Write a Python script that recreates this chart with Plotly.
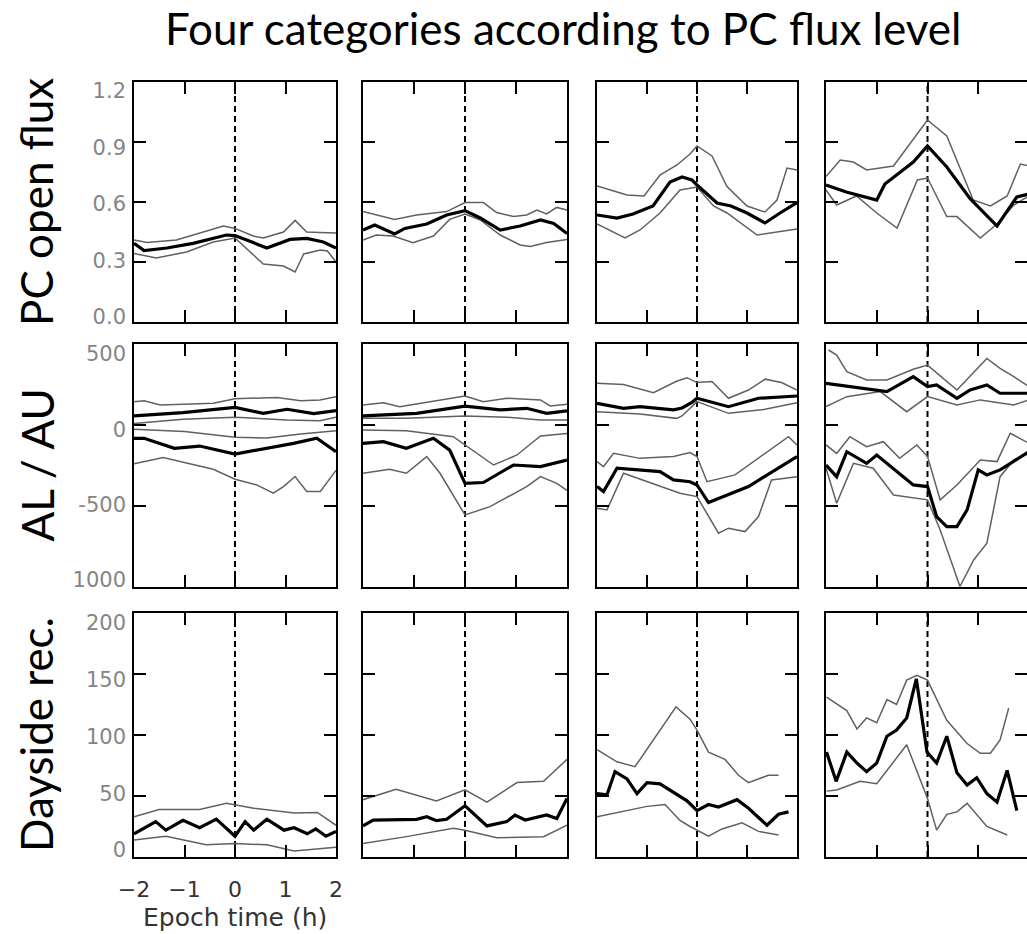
import plotly.graph_objects as go

# ---------------- DATA ----------------
# Epoch time tick labels
x_tickvals = [-2, -1, 0, 1, 2]
x_ticktext = ["\u22122", "\u22121", "0", "1", "2"]

row_titles = ["PC open flux", "AL / AU", "Dayside rec."]
flux_tickvals = [0.0, 0.3, 0.6, 0.9, 1.2]
flux_ticktext = ["0.0", "0.3", "0.6", "0.9", "1.2"]
alau_tickvals = [-1000, -500, 0, 500]
alau_ticktext = ["1000", "-500", "0", "500"]
rec_tickvals = [0, 50, 100, 150, 200]
rec_ticktext = ["0", "50", "100", "150", "200"]

# ---- Row 1: PC open flux ----
# category 1
flux1_mean_t = [-2, -1.8, -1.35, -0.83, -0.17, 0, 0.36, 0.63, 1.09, 1.42, 1.75, 2]
flux1_mean_v = [0.393, 0.357, 0.37, 0.393, 0.435, 0.432, 0.397, 0.37, 0.413, 0.418, 0.40, 0.37]
flux1_up_t = [-2, -1.74, -1.16, -0.43, -0.23, 0, 0.36, 0.56, 0.96, 1.19, 1.42, 1.69, 2]
flux1_up_v = [0.41, 0.397, 0.41, 0.468, 0.48, 0.468, 0.43, 0.42, 0.45, 0.508, 0.45, 0.447, 0.445]
flux1_lo_t = [-2, -1.56, -0.96, -0.43, 0, 0.43, 0.56, 0.96, 1.19, 1.36, 1.69, 1.83, 2]
flux1_lo_v = [0.343, 0.32, 0.35, 0.40, 0.42, 0.32, 0.29, 0.28, 0.25, 0.34, 0.36, 0.355, 0.30]
# category 2
flux2_mean_t = [-2, -1.77, -1.38, -1.18, -0.75, -0.36, 0, 0.3, 0.69, 1.08, 1.48, 1.74, 2]
flux2_mean_v = [0.46, 0.485, 0.44, 0.468, 0.49, 0.535, 0.557, 0.52, 0.46, 0.48, 0.51, 0.493, 0.443]
flux2_up_t = [-2, -1.38, -0.95, -0.36, 0, 0.36, 0.62, 0.95, 1.21, 1.41, 1.6, 1.8, 2]
flux2_up_v = [0.552, 0.513, 0.535, 0.552, 0.597, 0.597, 0.547, 0.527, 0.535, 0.56, 0.54, 0.573, 0.56]
flux2_lo_t = [-2, -1.74, -1.41, -1.02, -0.62, -0.3, 0, 0.3, 0.69, 1.08, 1.28, 1.6, 2]
flux2_lo_v = [0.41, 0.435, 0.43, 0.397, 0.43, 0.513, 0.54, 0.51, 0.435, 0.385, 0.377, 0.397, 0.413]
# category 3
flux3_mean_t = [-2, -1.6, -1.28, -0.88, -0.54, -0.3, -0.1, 0, 0.4, 0.68, 1.0, 1.36, 1.66, 2]
flux3_mean_v = [0.535, 0.52, 0.54, 0.58, 0.70, 0.725, 0.71, 0.685, 0.595, 0.58, 0.545, 0.495, 0.545, 0.597]
flux3_up_t = [-2, -1.4, -1.06, -0.74, -0.4, -0.14, 0, 0.3, 0.6, 1.0, 1.36, 1.6, 1.8, 2]
flux3_up_v = [0.68, 0.635, 0.63, 0.735, 0.785, 0.84, 0.88, 0.83, 0.677, 0.58, 0.55, 0.61, 0.77, 0.76]
flux3_lo_t = [-2, -1.44, -1.14, -0.74, -0.34, 0, 0.33, 0.6, 1.2, 1.6, 2]
flux3_lo_v = [0.49, 0.42, 0.46, 0.545, 0.66, 0.675, 0.58, 0.545, 0.435, 0.45, 0.465]
# category 4
flux4_mean_t = [-2, -1.6, -1.0, -0.84, -0.28, 0, 0.38, 0.84, 1.37, 1.76, 2]
flux4_mean_v = [0.685, 0.65, 0.61, 0.69, 0.80, 0.88, 0.775, 0.617, 0.48, 0.625, 0.64]
flux4_up_t = [-2, -1.72, -1.46, -1.2, -0.67, 0, 0.38, 0.9, 1.24, 1.57, 1.83, 2]
flux4_up_v = [0.727, 0.81, 0.80, 0.76, 0.78, 1.01, 0.93, 0.61, 0.58, 0.63, 0.79, 0.78]
flux4_lo_t = [-2, -1.79, -1.4, -1.0, -0.6, -0.2, 0, 0.38, 0.58, 1.04, 1.37, 1.7, 2]
flux4_lo_v = [0.66, 0.585, 0.63, 0.545, 0.47, 0.71, 0.72, 0.527, 0.527, 0.42, 0.49, 0.585, 0.63]

# ---- Row 2: AL / AU (nT) ----
# category 1
au1_mean_t = [-2, -1.03, 0, 0.56, 1.03, 1.56, 2]
au1_mean_v = [56, 76, 109, 72, 97, 70, 89]
au1_up_t = [-2, -1.8, -1.48, -1.03, -0.43, 0, 0.83, 1.3, 1.68, 2]
au1_up_v = [144, 150, 124, 129, 135, 162, 170, 150, 155, 175]
au1_lo_t = [-2, -1.03, 0, 1.03, 1.68, 2]
au1_lo_v = [10, 35, 48, 31, 27, 48]
al1_up_t = [-2, -1, 0, 0.63, 1.3, 2]
al1_up_v = [-27, -40, -76, -80, -55, -35]
al1_mean_t = [-2, -1.8, -1.2, -0.7, 0, 0.63, 1.16, 1.62, 2]
al1_mean_v = [-82, -82, -144, -130, -179, -144, -113, -82, -165]
al1_lo_t = [-2, -1.42, -0.96, -0.43, 0, 0.43, 0.76, 0.96, 1.19, 1.42, 1.69, 2]
al1_lo_v = [-240, -201, -234, -273, -335, -370, -421, -380, -318, -410, -410, -280]
# category 2
au2_mean_t = [-2, -0.95, 0, 0.69, 1.21, 1.6, 2]
au2_mean_v = [56, 72, 117, 93, 103, 72, 87]
au2_up_t = [-2, -1.6, -1.28, -0.69, 0, 0.36, 0.82, 1.48, 1.67, 2]
au2_up_v = [124, 137, 113, 144, 179, 144, 165, 155, 118, 128]
au2_lo_t = [-2, -1.15, 0, 0.82, 1.48, 2]
au2_lo_v = [41, 41, 56, 48, 31, 31]
al2_up_t = [-2, -1.15, -0.23, 0.56, 1.02, 1.48, 2]
al2_up_v = [-31, -35, -72, -247, -185, -68, -52]
al2_mean_t = [-2, -1.6, -1.15, -0.62, -0.3, 0, 0.36, 0.95, 1.48, 2]
al2_mean_v = [-113, -103, -144, -82, -155, -360, -355, -247, -257, -216]
al2_lo_t = [-2, -1.48, -1.15, -0.75, -0.49, 0, 0.49, 1.21, 1.48, 1.8, 2]
al2_lo_v = [-298, -273, -298, -195, -298, -555, -504, -380, -319, -360, -404]
# category 3
au3_mean_t = [-2, -1.47, -1.14, -0.47, -0.3, -0.1, 0, 0.63, 1.23, 2]
au3_mean_v = [134, 103, 113, 93, 105, 140, 165, 113, 165, 179]
au3_up_t = [-2, -1.47, -0.87, -0.41, -0.2, 0, 0.3, 0.63, 1.03, 1.36, 1.69, 2]
au3_up_v = [257, 250, 200, 270, 292, 262, 268, 165, 216, 283, 262, 216]
au3_lo_t = [-2, -1.14, -0.41, -0.3, 0, 0.63, 1.36, 2]
au3_lo_v = [82, 68, 41, 56, 144, 72, 97, 138]
al3_up_t = [-2, -1.87, -1.67, -1.14, -0.47, -0.14, 0, 0.2, 0.76, 1.36, 1.83, 2]
al3_up_v = [-226, -257, -175, -206, -195, -170, -195, -350, -308, -175, -72, -123]
al3_mean_t = [-2, -1.87, -1.6, -1.14, -0.74, -0.47, -0.14, 0, 0.23, 1.03, 2]
al3_mean_v = [-380, -411, -267, -278, -288, -339, -350, -370, -479, -380, -195]
al3_lo_t = [-2, -1.8, -1.47, -0.74, -0.34, 0, 0.43, 0.63, 0.96, 1.23, 1.49, 2]
al3_lo_v = [-514, -524, -298, -380, -421, -442, -668, -637, -658, -565, -339, -319]
# category 4
au4_mean_t = [-2, -1.2, -0.8, -0.28, 0, 0.18, 0.58, 0.84, 1.17, 1.43, 2]
au4_mean_v = [257, 226, 206, 298, 237, 247, 165, 216, 247, 196, 196]
au4_up_t = [-1.95, -1.79, -1.59, -1.2, -0.8, -0.28, 0, 0.58, 1.17, 1.43, 1.7, 2]
au4_up_v = [463, 432, 329, 278, 278, 344, 370, 216, 411, 349, 298, 237]
au4_lo_t = [-2, -1.59, -0.93, -0.41, 0, 0.58, 1.04, 1.7, 2]
au4_lo_v = [113, 175, 206, 82, 175, 124, 155, 124, 155]
al4_up_t = [-2, -1.79, -1.53, -1.2, -0.87, -0.55, -0.21, 0, 0.25, 0.58, 1.04, 1.37, 1.63, 2]
al4_up_v = [-123, -175, -72, -134, -103, -206, -123, -195, -462, -370, -216, -226, -51, -113]
al4_mean_t = [-2, -1.79, -1.59, -1.2, -1.0, -0.28, 0, 0.18, 0.38, 0.58, 0.78, 1.0, 1.17, 1.43, 2]
al4_mean_v = [-247, -319, -165, -237, -185, -370, -380, -565, -627, -627, -524, -277, -308, -277, -165]
al4_lo_t = [-2, -1.79, -1.46, -1.07, -0.67, -0.28, 0, 0.25, 0.64, 0.91, 1.17, 1.43, 1.7, 2]
al4_lo_v = [-267, -483, -237, -267, -432, -452, -462, -648, -997, -833, -730, -319, -216, -175]

# ---- Row 3: Dayside reconnection ----
rec1_mean_t = [-2, -1.77, -1.57, -1.37, -1.03, -0.7, -0.37, 0, 0.2, 0.37, 0.63, 0.97, 1.17, 1.43, 1.6, 1.8, 2]
rec1_mean_v = [19, 24, 29, 22, 30, 24, 31, 17, 29, 22, 31, 22, 24, 19, 23, 17, 21]
rec1_up_t = [-2, -1.5, -0.7, -0.17, 0.37, 1.17, 1.63, 2]
rec1_up_v = [33, 39, 39, 44, 40, 36, 36.5, 26]
rec1_lo_t = [-2, -1.37, -0.57, 0, 0.63, 1.17, 2]
rec1_lo_v = [14, 17, 10, 11, 10, 5, 8]

rec2_mean_t = [-2, -1.8, -0.95, -0.75, -0.56, -0.36, 0, 0.43, 0.82, 0.98, 1.18, 1.6, 1.8, 2]
rec2_mean_v = [25.5, 30.3, 30.9, 33, 29.8, 30.9, 42, 25.5, 29, 34.4, 30.3, 34.4, 31.6, 48]
rec2_up_t = [-2, -1.35, -0.56, 0, 0.43, 1.02, 1.54, 2]
rec2_up_v = [47, 55.5, 46, 55, 45, 61, 62, 80]
rec2_lo_t = [-2, -1.15, -0.23, 0, 0.62, 1.54, 2]
rec2_lo_v = [11, 16.7, 23.5, 22, 15.8, 16.7, 26]

rec3_mean_t = [-2, -1.8, -1.64, -1.4, -1.2, -1.0, -0.74, -0.41, -0.2, 0, 0.23, 0.43, 0.8, 1.03, 1.4, 1.63, 1.83]
rec3_mean_v = [52, 51, 70, 64, 52, 61, 60, 51, 46, 38, 43, 41, 47, 40, 26, 35, 37]
rec3_up_t = [-2, -1.6, -1.24, -0.42, -0.14, 0, 0.23, 0.56, 0.83, 1.03, 1.43, 1.63]
rec3_up_v = [88, 78, 74, 123, 113, 104, 86, 80, 67, 61, 67, 67]
rec3_lo_t = [-2, -1.0, -0.64, -0.34, -0.14, 0, 0.23, 0.5, 0.9, 1.23, 1.63]
rec3_lo_v = [33, 41.5, 43, 30, 25, 22, 17, 23, 28, 21, 18]

rec4_mean_t = [-1.99, -1.8, -1.59, -1.39, -1.2, -1.0, -0.8, -0.61, -0.41, -0.22, -0.01, 0.18, 0.38, 0.58, 0.78, 0.97, 1.17, 1.37, 1.57, 1.76]
rec4_mean_v = [86, 62, 86, 77, 70, 77, 99, 104, 114, 146, 86, 77, 99, 69, 59, 65, 52, 45, 71, 38]
rec4_up_t = [-1.99, -1.59, -1.39, -1.2, -1.0, -0.8, -0.61, -0.41, -0.21, 0, 0.38, 0.78, 1.04, 1.24, 1.43, 1.6]
rec4_up_v = [131, 120, 105, 114, 110, 129, 125, 145, 149, 145, 112, 93, 85, 85, 96, 122]
rec4_lo_t = [-1.99, -1.79, -1.33, -1.0, -0.41, 0, 0.18, 0.38, 0.58, 0.78, 1.17, 1.57]
rec4_lo_v = [54, 55, 62, 60, 92, 48, 22, 35, 37, 44, 25, 18]

# ---------------- FIGURE ----------------
W, H = 1027, 934
col_px = [(134, 336), (363, 567), (597, 797), (826, 1029)]
row_px = [(82, 322), (344, 587), (613, 857)]
label_px = [(91, 317), (354, 580), (623, 850)]   # vertical span of the y tick-label column
y_ranges = [[0, 1.2], [-1000, 500], [0, 200]]
y_ticks = [(flux_tickvals, flux_ticktext), (alau_tickvals, alau_ticktext), (rec_tickvals, rec_ticktext)]

THICK = dict(color="black", width=3.2)
THIN = dict(color="#606060", width=1.5)

panels = {
    (0, 0): [(flux1_up_t, flux1_up_v, THIN), (flux1_lo_t, flux1_lo_v, THIN), (flux1_mean_t, flux1_mean_v, THICK)],
    (0, 1): [(flux2_up_t, flux2_up_v, THIN), (flux2_lo_t, flux2_lo_v, THIN), (flux2_mean_t, flux2_mean_v, THICK)],
    (0, 2): [(flux3_up_t, flux3_up_v, THIN), (flux3_lo_t, flux3_lo_v, THIN), (flux3_mean_t, flux3_mean_v, THICK)],
    (0, 3): [(flux4_up_t, flux4_up_v, THIN), (flux4_lo_t, flux4_lo_v, THIN), (flux4_mean_t, flux4_mean_v, THICK)],
    (1, 0): [(au1_up_t, au1_up_v, THIN), (au1_lo_t, au1_lo_v, THIN), (al1_up_t, al1_up_v, THIN), (al1_lo_t, al1_lo_v, THIN),
             (au1_mean_t, au1_mean_v, THICK), (al1_mean_t, al1_mean_v, THICK)],
    (1, 1): [(au2_up_t, au2_up_v, THIN), (au2_lo_t, au2_lo_v, THIN), (al2_up_t, al2_up_v, THIN), (al2_lo_t, al2_lo_v, THIN),
             (au2_mean_t, au2_mean_v, THICK), (al2_mean_t, al2_mean_v, THICK)],
    (1, 2): [(au3_up_t, au3_up_v, THIN), (au3_lo_t, au3_lo_v, THIN), (al3_up_t, al3_up_v, THIN), (al3_lo_t, al3_lo_v, THIN),
             (au3_mean_t, au3_mean_v, THICK), (al3_mean_t, al3_mean_v, THICK)],
    (1, 3): [(au4_up_t, au4_up_v, THIN), (au4_lo_t, au4_lo_v, THIN), (al4_up_t, al4_up_v, THIN), (al4_lo_t, al4_lo_v, THIN),
             (au4_mean_t, au4_mean_v, THICK), (al4_mean_t, al4_mean_v, THICK)],
    (2, 0): [(rec1_up_t, rec1_up_v, THIN), (rec1_lo_t, rec1_lo_v, THIN), (rec1_mean_t, rec1_mean_v, THICK)],
    (2, 1): [(rec2_up_t, rec2_up_v, THIN), (rec2_lo_t, rec2_lo_v, THIN), (rec2_mean_t, rec2_mean_v, THICK)],
    (2, 2): [(rec3_up_t, rec3_up_v, THIN), (rec3_lo_t, rec3_lo_v, THIN), (rec3_mean_t, rec3_mean_v, THICK)],
    (2, 3): [(rec4_up_t, rec4_up_v, THIN), (rec4_lo_t, rec4_lo_v, THIN), (rec4_mean_t, rec4_mean_v, THICK)],
}

fig = go.Figure()
layout = dict(
    width=W, height=H,
    margin=dict(l=0, r=0, t=0, b=0, autoexpand=False),
    paper_bgcolor="white", plot_bgcolor="rgba(0,0,0,0)",
    showlegend=False,
)
shapes = []
annotations = []

def ax_name(kind, i):
    return kind if i == 1 else f"{kind}{i}"

for r in range(3):
    for c in range(4):
        idx = r * 4 + c + 1
        xa, ya = ax_name("x", idx), ax_name("y", idx)
        for t, v, st in panels[(r, c)]:
            fig.add_trace(go.Scatter(x=t, y=v, mode="lines", line=st, xaxis=xa, yaxis=ya,
                                     hoverinfo="skip"))
        x0p, x1p = col_px[c]
        xr = [-2, 2]
        if x1p > W:
            xr = [-2, -2 + 4 * (W - x0p) / (x1p - x0p)]
            x1p = W
        y0p, y1p = row_px[r]
        xaxis = dict(domain=[x0p / W, x1p / W], range=xr, anchor=ya, automargin=False,
                     showline=True, linecolor="black", linewidth=2, mirror="ticks",
                     ticks="inside", ticklen=12, tickwidth=2, tickcolor="black",
                     tickmode="array", tickvals=x_tickvals, ticktext=x_ticktext,
                     showgrid=False, zeroline=False, layer="above traces",
                     showticklabels=(r == 2 and c == 0),
                     tickfont=dict(family="DejaVu Sans", size=22, color="#333"))
        if r == 2 and c == 0:
            xaxis["ticklabelstandoff"] = 12
        tv, tt = y_ticks[r]
        yaxis = dict(domain=[1 - y1p / H, 1 - y0p / H], range=y_ranges[r], anchor=xa, automargin=False,
                     showline=True, linecolor="black", linewidth=2, mirror="ticks",
                     ticks="inside", ticklen=12, tickwidth=2, tickcolor="black",
                     tickmode="array", tickvals=tv, showticklabels=False,
                     showgrid=False, zeroline=False, layer="above traces")
        layout[ax_name("xaxis", idx)] = xaxis
        layout[ax_name("yaxis", idx)] = yaxis
        shapes.append(dict(type="line", xref=xa, yref=f"{ya} domain", x0=0, x1=0, y0=0, y1=1,
                           line=dict(color="black", width=2, dash="6px,4px"), layer="below"))

# tick-label columns on the left (separate label-only axes, as in the composed original)
for r in range(3):
    idx = 13 + r
    xa, ya = ax_name("x", idx), ax_name("y", idx)
    fig.add_trace(go.Scatter(x=[], y=[], mode="lines", xaxis=xa, yaxis=ya, hoverinfo="skip"))
    l0, l1 = label_px[r]
    tv, tt = y_ticks[r]
    layout[ax_name("xaxis", idx)] = dict(domain=[col_px[0][0] / W, col_px[0][1] / W], range=[-2, 2],
                                         anchor=ya, visible=False, automargin=False, fixedrange=True)
    layout[ax_name("yaxis", idx)] = dict(domain=[1 - l1 / H, 1 - l0 / H], range=y_ranges[r], anchor=xa,
                                         automargin=False, showline=False, ticks="", showgrid=False,
                                         zeroline=False, tickmode="array", tickvals=tv, ticktext=tt,
                                         ticklabelstandoff=7,
                                         tickfont=dict(family="DejaVu Sans", size=21, color="#858585"))

TFONT = dict(family="Lato", size=44, color="black")
annotations.append(dict(text="Four categories according to PC flux level", xref="paper", yref="paper",
                        x=563 / W, y=1 - 28 / H, xanchor="center", yanchor="middle",
                        showarrow=False, font=TFONT))
for r, label in enumerate(row_titles):
    yc = (row_px[r][0] + row_px[r][1]) / 2
    annotations.append(dict(text=label, xref="paper", yref="paper", x=36 / W, y=1 - yc / H,
                            xanchor="center", yanchor="middle", textangle=-90,
                            showarrow=False, font=TFONT))
annotations.append(dict(text="Epoch time (h)", xref="paper", yref="paper", x=235 / W, y=1 - 917 / H,
                        xanchor="center", yanchor="middle", showarrow=False,
                        font=dict(family="DejaVu Sans", size=25, color="#333")))

layout["shapes"] = shapes
layout["annotations"] = annotations
fig.update_layout(**layout)
fig.write_html("out.html")
